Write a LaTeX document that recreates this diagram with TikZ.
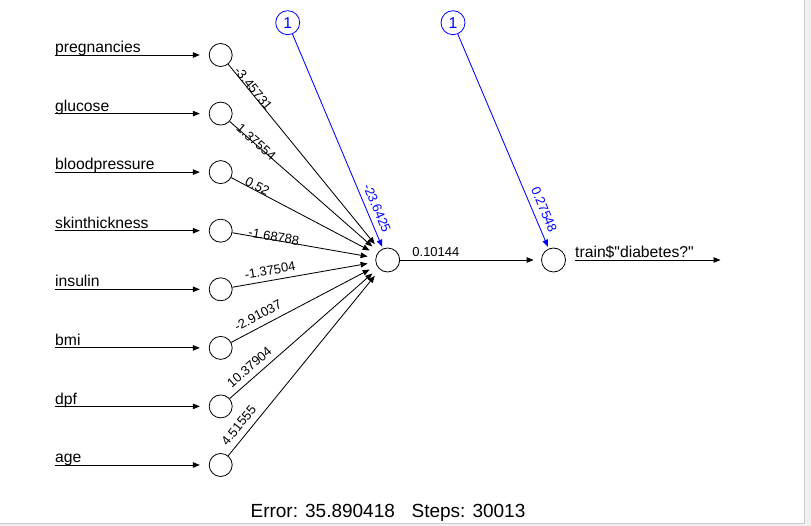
\documentclass[tikz,border=0pt]{standalone}
\usepackage{fontspec}
\setmainfont{Liberation Sans}
\usetikzlibrary{arrows.meta}
\begin{document}
\begin{tikzpicture}[x=1pt,y=-1pt,
  neuron/.style={circle, draw=black, line width=0.8pt, minimum size=23pt, inner sep=0pt},
  biasnode/.style={circle, draw=blue, text=blue, line width=0.8pt, minimum size=24pt, inner sep=0pt, font=\fontsize{15.7}{18}\selectfont},
  conn/.style={draw=black, line width=0.85pt, -{Triangle[length=7pt,width=5.5pt]}},
  bconn/.style={draw=blue, line width=0.85pt, -{Triangle[length=7pt,width=5.5pt]}},
  inlabel/.style={anchor=base west, inner sep=0pt, font=\fontsize{15.7}{18}\selectfont},
  wlabel/.style={sloped, inner sep=0pt, font=\fontsize{13}{15}\selectfont},
]
\useasboundingbox (0,0) rectangle (811,526);
\fill[black!6] (0,0) rectangle (811,526);
\fill[white] (0,0) rectangle (804.5,523.5);
\draw[black!20, line width=0.8pt] (804.5,0) -- (804.5,523.5) -- (0,523.5);

% input neurons
\node[neuron] (in1) at (220.7,55) {};
\node[neuron] (in2) at (220.7,113.6) {};
\node[neuron] (in3) at (220.7,172.1) {};
\node[neuron] (in4) at (220.7,230.7) {};
\node[neuron] (in5) at (220.7,289.3) {};
\node[neuron] (in6) at (220.7,347.9) {};
\node[neuron] (in7) at (220.7,406.4) {};
\node[neuron] (in8) at (220.7,465) {};
\node[neuron, minimum size=24pt] (hid) at (387.7,260) {};
\node[neuron, minimum size=24pt] (out) at (553.5,260) {};
\node[biasnode] (b1) at (287.7,22.7) {1};
\node[biasnode] (b2) at (453,22.7) {1};

% input line starts
\coordinate (s1) at (55,55);
\coordinate (s2) at (55,113.6);
\coordinate (s3) at (55,172.1);
\coordinate (s4) at (55,230.7);
\coordinate (s5) at (55,289.3);
\coordinate (s6) at (55,347.9);
\coordinate (s7) at (55,406.4);
\coordinate (s8) at (55,465);
\coordinate (oe) at (720.5,260);

\node[inlabel] (t1) at (55,52.7) {pregnancies};
\node[inlabel] (t2) at (55,111.3) {glucose};
\node[inlabel] (t3) at (55,169.8) {bloodpressure};
\node[inlabel] (t4) at (55,228.4) {skinthickness};
\node[inlabel] (t5) at (55,287) {insulin};
\node[inlabel] (t6) at (55,345.6) {bmi};
\node[inlabel] (t7) at (55,404.1) {dpf};
\node[inlabel] (t8) at (55,462.7) {age};
\node[inlabel] (tout) at (575,257.7) {train\$\textquotedbl diabetes?\textquotedbl};

\draw[conn, shorten >=9pt] (s1) -- (in1);
\draw[conn, shorten >=9pt] (s2) -- (in2);
\draw[conn, shorten >=9pt] (s3) -- (in3);
\draw[conn, shorten >=9pt] (s4) -- (in4);
\draw[conn, shorten >=9pt] (s5) -- (in5);
\draw[conn, shorten >=9pt] (s6) -- (in6);
\draw[conn, shorten >=9pt] (s7) -- (in7);
\draw[conn, shorten >=9pt] (s8) -- (in8);

% input -> hidden
\draw[conn, shorten >=8pt] (in1) -- node[wlabel, pos=0.145, above=-0.9pt] (w1) {-3.45731} (hid);
\draw[conn, shorten >=8pt] (in2) -- node[wlabel, pos=0.17, above=-3pt] (w2) {1.37554} (hid);
\draw[conn, shorten >=8pt] (in3) -- node[wlabel, pos=0.165, above=-0.3pt] (w3) {0.52} (hid);
\draw[conn, shorten >=8pt] (in4) -- node[wlabel, pos=0.285, above=-1.5pt] (w4) {-1.68788} (hid);
\draw[conn, shorten >=8pt] (in5) -- node[wlabel, pos=0.275, above=5pt] (w5) {-1.37504} (hid);
\draw[conn, shorten >=8pt] (in6) -- node[wlabel, pos=0.22, above=6.3pt] (w6) {-2.91037} (hid);
\draw[conn, shorten >=8pt] (in7) -- node[wlabel, pos=0.18, above=5.7pt] (w7) {10.37904} (hid);
\draw[conn, shorten >=8pt] (in8) -- node[wlabel, pos=0.125, above=6pt] (w8) {4.51555} (hid);

% bias
\draw[bconn, shorten >=2pt] (b1) -- node[wlabel, text=blue, pos=0.83, above=5.3pt] (wb1) {-23.6425} (hid);
\draw[bconn, shorten >=2pt] (b2) -- node[wlabel, text=blue, pos=0.839, above=6pt] (wb2) {0.27548} (out);

% hidden -> output
\draw[conn, shorten >=7.5pt] (hid) -- node[wlabel, pos=0.254, above=2.6pt] (wo) {0.10144} (out);
\draw[conn, shorten <=9.5pt] (out) -- (oe);

\node[anchor=base, inner sep=0pt, font=\fontsize{19}{22}\selectfont] (err) at (388,517.7) {Error: 35.890418\hspace{16.7pt}Steps: 30013};
\end{tikzpicture}
\end{document}
